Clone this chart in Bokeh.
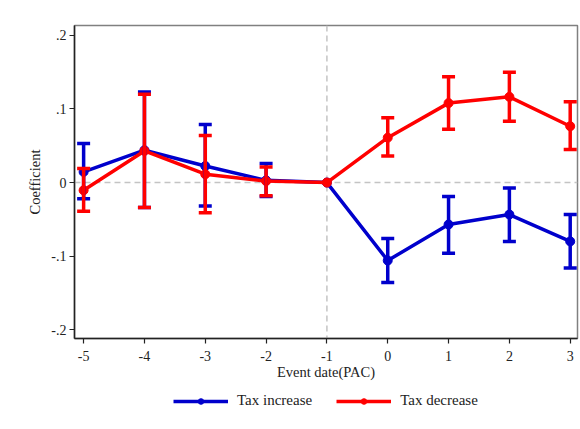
import numpy as np
from bokeh.plotting import figure
from bokeh.layouts import column
from bokeh.models import (ColumnDataSource, Whisker, TeeHead, Span, Legend,
                          LegendItem, FixedTicker, Range1d)
from bokeh.embed import file_html
from bokeh.resources import INLINE

# Event-time coefficients with 95% confidence bounds
event_time = [-5, -4, -3, -2, -1, 0, 1, 2, 3]

inc_coef = [0.0145, 0.044, 0.0225, 0.003, 0.0, -0.106, -0.057, -0.0435, -0.080]
inc_low = [-0.022, -0.034, -0.032, -0.019, 0.0, -0.136, -0.096, -0.080, -0.116]
inc_high = [0.053, 0.123, 0.079, 0.026, 0.0, -0.076, -0.019, -0.0073, -0.0435]

dec_coef = [-0.0105, 0.043, 0.0113, 0.002, 0.0, 0.061, 0.108, 0.1165, 0.0766]
dec_low = [-0.039, -0.034, -0.041, -0.018, 0.0, 0.036, 0.0725, 0.0834, 0.045]
dec_high = [0.019, 0.120, 0.064, 0.021, 0.0, 0.088, 0.1437, 0.150, 0.1097]

y_ticks = [-0.2, -0.1, 0.0, 0.1, 0.2]
y_tick_labels = ["-.2", "-.1", "0", ".1", ".2"]
x_ticks = event_time
x_tick_labels = ["-5", "-4", "-3", "-2", "-1", "0", "1", "2", "3"]

series_names = ["Tax increase", "Tax decrease"]
BLUE = "#0000cc"
RED = "#ff0000"
SERIF = "Liberation Serif"
INK = "#222222"

p = figure(width=580, height=388, output_backend="svg", toolbar_location=None,
           x_range=Range1d(-5.15, 3.12), y_range=Range1d(-0.212, 0.2135),
           min_border_left=74, min_border_right=3, min_border_top=25,
           min_border_bottom=50)
p.background_fill_color = "white"
p.border_fill_color = "white"
p.grid.visible = False
p.outline_line_color = "#808080"
p.outline_line_width = 1.5

# reference lines at zero and at the event date
p.add_layout(Span(location=0, dimension="width", line_color="#c4c4c4",
                  line_width=1.5, line_dash="6 4", level="underlay"))
p.add_layout(Span(location=-1, dimension="height", line_color="#c4c4c4",
                  line_width=1.5, line_dash="6 4", level="underlay"))

series = [(series_names[0], inc_coef, inc_low, inc_high, BLUE),
          (series_names[1], dec_coef, dec_low, dec_high, RED)]

for name, coef, low, high, color in series:
    # the omitted period (-1) carries no interval
    src_ci = ColumnDataSource(dict(
        x=[x for x in event_time if x != -1],
        lo=[l for x, l in zip(event_time, low) if x != -1],
        hi=[h for x, h in zip(event_time, high) if x != -1]))
    src = ColumnDataSource(dict(x=event_time, y=coef))
    w = Whisker(base="x", lower="lo", upper="hi", source=src_ci,
                line_color=color, line_width=3.5, level="glyph",
                upper_head=TeeHead(size=13, line_color=color, line_width=3.5),
                lower_head=TeeHead(size=13, line_color=color, line_width=3.5))
    p.add_layout(w)
    p.line("x", "y", source=src, line_color=color, line_width=3.5)
    p.scatter("x", "y", source=src, size=9, fill_color=color, line_color=color)

for ax in (p.xaxis[0], p.yaxis[0]):
    ax.axis_line_color = INK
    ax.axis_line_width = 1.5
    ax.major_tick_line_color = INK
    ax.major_tick_line_width = 1.2
    ax.major_tick_out = 5
    ax.major_tick_in = 0
    ax.minor_tick_line_color = None
    ax.major_label_text_font = SERIF
    ax.major_label_text_font_size = "14px"
    ax.major_label_text_color = INK
    ax.axis_label_text_font = SERIF
    ax.axis_label_text_font_size = "14.5px"
    ax.axis_label_text_font_style = "normal"
    ax.axis_label_text_color = INK

p.xaxis.ticker = FixedTicker(ticks=x_ticks)
p.xaxis.major_label_overrides = dict(zip(x_ticks, x_tick_labels))
p.xaxis.axis_label = "Event date(PAC)"
p.xaxis.major_label_standoff = 7
p.xaxis.axis_label_standoff = 0

p.yaxis.ticker = FixedTicker(ticks=y_ticks)
p.yaxis.major_label_overrides = dict(zip(y_ticks, y_tick_labels))
p.yaxis.axis_label = "Coefficient"
p.yaxis.major_label_standoff = 3
p.yaxis.axis_label_standoff = 5

# key strip under the chart: placeholder renderers (NaN, nothing drawn)
# supply the legend glyphs
key = figure(width=580, height=41, output_backend="svg", toolbar_location=None,
             x_axis_type=None, y_axis_type=None, min_border=0,
             min_border_left=74, min_border_right=3,
             x_range=Range1d(0, 1), y_range=Range1d(0, 1))
key.outline_line_color = None
key.grid.visible = False
items = []
for name, _, _, _, color in series:
    placeholder = ColumnDataSource(dict(x=np.array([np.nan]),
                                        y=np.array([np.nan])))
    ln = key.line("x", "y", source=placeholder, line_color=color,
                  line_width=3.5)
    pt = key.scatter("x", "y", source=placeholder, size=9, fill_color=color,
                     line_color=color)
    items.append(LegendItem(label=name, renderers=[ln, pt]))
legend = Legend(items=items, orientation="horizontal", location=(95, 16),
                border_line_alpha=0, background_fill_alpha=0,
                label_text_font=SERIF, label_text_font_size="15px",
                label_text_color=INK, glyph_width=55, glyph_height=14,
                spacing=24, label_standoff=9, margin=0, padding=4)
key.add_layout(legend)

open("out.html", "w").write(file_html(column(p, key, spacing=0), INLINE))
